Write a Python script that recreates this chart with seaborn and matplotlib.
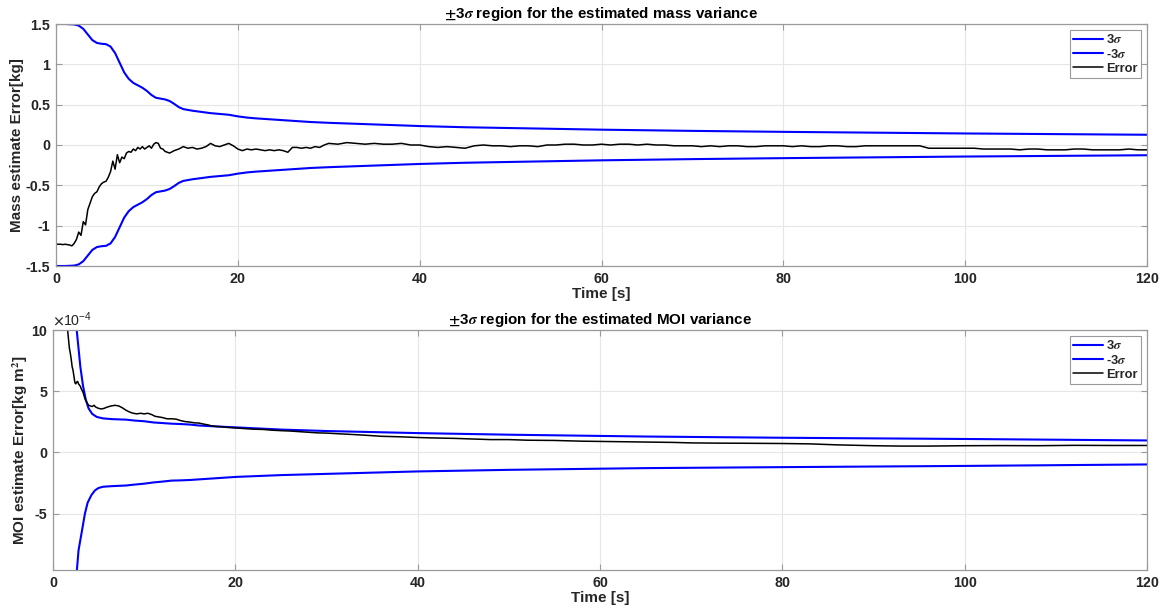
import numpy as np
import matplotlib
matplotlib.use("Agg")
import matplotlib.pyplot as plt
from matplotlib.ticker import ScalarFormatter, FixedLocator
import seaborn as sns

# ---------------- mass estimate: ±3σ bound and error ----------------
mass_sigma_t = [0, 1, 2, 2.5, 3, 3.5, 4, 4.5, 5, 5.5, 6, 6.5, 7, 7.5, 8, 8.5, 9, 9.5,
                10, 10.5, 11, 11.5, 12, 12.5, 13, 13.5, 14, 14.5, 15, 16, 17, 18, 19,
                20, 21, 22, 24, 26, 28, 30, 35, 40, 45, 50, 60, 70, 80, 90, 100, 110, 120]
mass_sigma = [1.5, 1.5, 1.495, 1.48, 1.44, 1.37, 1.30, 1.265, 1.255, 1.25, 1.22, 1.14,
              1.02, 0.90, 0.82, 0.77, 0.74, 0.71, 0.67, 0.62, 0.585, 0.575, 0.565, 0.545,
              0.51, 0.47, 0.445, 0.435, 0.425, 0.41, 0.395, 0.385, 0.375, 0.355, 0.34,
              0.33, 0.315, 0.30, 0.285, 0.275, 0.255, 0.235, 0.22, 0.21, 0.19, 0.175,
              0.163, 0.153, 0.143, 0.135, 0.127]

mass_err_t = np.concatenate([np.arange(0, 12.01, 0.25),
                             np.arange(12.5, 30.01, 0.5),
                             np.arange(31, 120.01, 1.0)])
mass_err = [
    # 0 .. 12 s
    -1.23, -1.23, -1.23, -1.235, -1.23, -1.235, -1.24, -1.25, -1.22, -1.17, -1.08,
    -1.12, -0.95, -0.99, -0.80, -0.72, -0.64, -0.60, -0.58, -0.52, -0.48, -0.46,
    -0.45, -0.40, -0.33, -0.20, -0.30, -0.12, -0.22, -0.15, -0.17, -0.10, -0.08,
    -0.09, -0.05, -0.07, -0.03, -0.05, -0.02, -0.05, -0.03, -0.01, -0.04, 0.01,
    0.03, 0.02, -0.04, -0.05, -0.08,
    # 12.5 .. 30 s
    -0.10, -0.07, -0.05, -0.02, -0.04, -0.03, -0.05, -0.04, -0.02, 0.02, -0.01,
    -0.02, 0.0, 0.02, -0.01, -0.05, -0.07, -0.05, -0.06, -0.05, -0.06, -0.07,
    -0.06, -0.07, -0.06, -0.07, -0.09, -0.03, -0.03, -0.04, -0.03, -0.04, -0.02,
    -0.03, 0.0, 0.02,
    # 31 .. 120 s
    0.01, 0.03, 0.02, 0.01, 0.02, 0.01, 0.01, 0.02, 0.0, 0.0, -0.02, -0.03, -0.02,
    -0.03, -0.04, -0.01, 0.0, -0.01, -0.01, -0.02, -0.01, -0.01, -0.02, 0.0, 0.0,
    0.01, 0.01, 0.0, 0.0, 0.01, 0.0, 0.01, 0.01, 0.0, 0.01, 0.0, 0.0, -0.01, -0.01,
    -0.01, -0.02, -0.01, -0.02, -0.01, -0.01, -0.02, -0.02, -0.01, -0.01, -0.01,
    -0.02, -0.01, -0.02, -0.02, -0.01, -0.01, -0.02, -0.02, -0.01, -0.01, -0.01,
    -0.01, -0.01, -0.01, -0.01, -0.04, -0.04, -0.04, -0.04, -0.04, -0.04, -0.05,
    -0.05, -0.05, -0.05, -0.06, -0.05, -0.05, -0.06, -0.06, -0.06, -0.05, -0.05,
    -0.06, -0.06, -0.06, -0.06, -0.05, -0.06, -0.06,
]

# ---------------- MOI estimate (values in units of 1e-4 kg m^2) ----------------
MOI_UNIT = 1e-4
moi_up_t = [1.5, 2.0, 2.3, 2.6, 3.0, 3.3, 3.6, 3.9, 4.3, 4.8, 5.5, 6.5, 8, 9, 10, 11,
            12, 13, 14, 15, 16, 18, 20, 25, 30, 40, 50, 65, 80, 100, 120]
moi_up = [25, 16, 12.5, 10, 7.0, 5.4, 4.3, 3.6, 3.15, 2.9, 2.78, 2.72, 2.68, 2.6,
          2.55, 2.45, 2.4, 2.35, 2.32, 2.28, 2.2, 2.12, 2.05, 1.87, 1.75, 1.58, 1.45,
          1.3, 1.2, 1.1, 0.98]

moi_lo_t = [2.3, 2.6, 2.8, 3.2, 3.5, 3.8, 4.2, 4.6, 5.0, 5.5, 6.5, 8, 9, 10, 11, 12,
            13, 14, 15, 16, 18, 20, 25, 30, 40, 50, 65, 80, 100, 120]
moi_lo = [-13, -9.8, -8.0, -6.3, -5.0, -4.1, -3.5, -3.1, -2.9, -2.8, -2.75, -2.7,
          -2.62, -2.55, -2.45, -2.38, -2.3, -2.28, -2.25, -2.2, -2.1, -2.0, -1.85,
          -1.75, -1.55, -1.42, -1.28, -1.2, -1.1, -0.98]

moi_err_t = [1.0, 1.3, 1.6, 1.8, 1.9, 2.0, 2.1, 2.2, 2.3, 2.4, 2.5, 2.6, 2.7, 2.8,
             2.9, 3.0, 3.1, 3.3, 3.5, 3.7, 3.9, 4.1, 4.3, 4.5, 4.7, 5.0, 5.3, 5.6,
             6.0, 6.4, 6.8, 7.2, 7.6, 8.0, 8.4, 8.8, 9.2, 9.6, 10.0, 10.4, 10.8,
             11.2, 11.6, 12.0, 12.5, 13, 13.5, 14, 14.5, 15, 15.5, 16, 16.5, 17,
             17.5, 18, 18.5, 19, 19.5, 20, 21, 22, 23, 24, 25, 26, 27, 28, 29, 30,
             32, 34, 36, 38, 40, 42, 44, 46, 48, 50, 52, 55, 58, 60, 62, 65, 68, 70,
             73, 76, 80, 83, 86, 90, 93, 96, 100, 104, 108, 112, 116, 120]
moi_err = [14, 12, 10, 8.5, 8.1, 7.6, 7.0, 6.7, 6.2, 5.7, 5.6, 5.75, 5.8, 5.6, 5.5,
           5.4, 5.2, 4.9, 4.4, 4.1, 3.85, 3.8, 3.75, 3.85, 3.7, 3.6, 3.55, 3.6, 3.72,
           3.8, 3.85, 3.8, 3.65, 3.45, 3.3, 3.2, 3.15, 3.2, 3.15, 3.2, 3.1, 2.95,
           2.9, 2.85, 2.75, 2.75, 2.72, 2.6, 2.52, 2.48, 2.42, 2.4, 2.32, 2.25, 2.15,
           2.12, 2.1, 2.05, 2.03, 2.0, 1.95, 1.9, 1.88, 1.82, 1.78, 1.75, 1.7, 1.65,
           1.6, 1.58, 1.5, 1.42, 1.32, 1.28, 1.22, 1.18, 1.15, 1.1, 1.05, 1.05, 1.0,
           0.98, 0.92, 0.9, 0.88, 0.85, 0.82, 0.78, 0.76, 0.75, 0.73, 0.7, 0.62,
           0.55, 0.52, 0.52, 0.55, 0.56, 0.55, 0.58, 0.57, 0.57]

x_ticks = [0, 20, 40, 60, 80, 100, 120]
mass_yticks = [-1.5, -1, -0.5, 0, 0.5, 1, 1.5]
moi_yticks = [-5, 0, 5, 10]


class FixedOrderFormatter(ScalarFormatter):
    """Scalar formatter with a fixed power-of-ten exponent."""

    def __init__(self, order, **kw):
        self._fixed_order = order
        super().__init__(**kw)

    def _set_order_of_magnitude(self):
        self.orderOfMagnitude = self._fixed_order

    def _set_format(self):
        self.format = "%g"


# ---------------- styling ----------------
sns.set_theme(style="whitegrid")
plt.rcParams["font.family"] = ["Liberation Sans", "DejaVu Sans"]
plt.rcParams["font.weight"] = "bold"
plt.rcParams["axes.unicode_minus"] = False
plt.rcParams["mathtext.fontset"] = "stix"

AX_GRAY = "#9a9a9a"
GRID_GRAY = "#e6e6e6"
TXT = "#262626"
TICK_FS = 10.3
LABEL_FS = 11
TITLE_FS = 10.9
LEG_FS = 9.3

fig = plt.figure(figsize=(11.66, 6.13), dpi=100)
W, H = 1166, 613
ax1 = fig.add_axes([56 / W, 1 - 266 / H, (1147 - 56) / W, (266 - 24) / H])
ax2 = fig.add_axes([53 / W, 1 - 570 / H, (1147 - 53) / W, (570 - 330) / H])


def style_axes(ax):
    ax.set_facecolor("white")
    ax.grid(True, color=GRID_GRAY, linewidth=0.8)
    for sp in ax.spines.values():
        sp.set_visible(True)
        sp.set_color(AX_GRAY)
        sp.set_linewidth(0.9)
    ax.tick_params(direction="in", length=4, width=0.8, color=AX_GRAY,
                   labelsize=TICK_FS, labelcolor=TXT, top=True, right=True,
                   left=True, bottom=True, pad=4)
    for lab in ax.get_xticklabels() + ax.get_yticklabels():
        lab.set_fontweight("bold")


LW_SIG = 1.5
LW_ERR = 1.1

# ---- upper panel: mass ----
sns.lineplot(x=mass_sigma_t, y=mass_sigma, ax=ax1, color="blue", lw=LW_SIG,
             label=r"3$\sigma$", sort=False, estimator=None)
sns.lineplot(x=mass_sigma_t, y=[-v for v in mass_sigma], ax=ax1, color="blue",
             lw=LW_SIG, label=r"-3$\sigma$", sort=False, estimator=None)
sns.lineplot(x=mass_err_t, y=mass_err, ax=ax1, color="black", lw=LW_ERR,
             label="Error", sort=False, estimator=None)
ax1.set_xlim(0, 120)
ax1.set_ylim(-1.5, 1.5)
ax1.set_xticks(x_ticks)
ax1.set_yticks(mass_yticks)
ax1.set_yticklabels([f"{v:g}" for v in mass_yticks])
style_axes(ax1)
ax1.set_title(r"$\pm$3$\sigma$ region for the estimated mass variance",
              fontsize=TITLE_FS, fontweight="bold", color="black", pad=4)
ax1.set_xlabel("Time [s]", fontsize=LABEL_FS, fontweight="bold", color=TXT, labelpad=1)
ax1.set_ylabel("Mass estimate Error[kg]", fontsize=LABEL_FS, fontweight="bold",
               color=TXT, labelpad=1)

# ---- lower panel: MOI ----
sns.lineplot(x=moi_up_t, y=[v * MOI_UNIT for v in moi_up], ax=ax2, color="blue",
             lw=LW_SIG, label=r"3$\sigma$", sort=False, estimator=None)
sns.lineplot(x=moi_lo_t, y=[v * MOI_UNIT for v in moi_lo], ax=ax2, color="blue",
             lw=LW_SIG, label=r"-3$\sigma$", sort=False, estimator=None)
sns.lineplot(x=moi_err_t, y=[v * MOI_UNIT for v in moi_err], ax=ax2, color="black",
             lw=LW_ERR, label="Error", sort=False, estimator=None)
ax2.set_xlim(0, 120)
ax2.set_ylim(-9.6e-4, 10e-4)
ax2.set_xticks(x_ticks)
ax2.yaxis.set_major_locator(FixedLocator([v * MOI_UNIT for v in moi_yticks]))
ax2.yaxis.set_major_formatter(FixedOrderFormatter(-4, useMathText=True))
style_axes(ax2)
off = ax2.yaxis.get_offset_text()
off.set_fontsize(TICK_FS)
off.set_fontweight("normal")
off.set_color(TXT)
ax2.set_title(r"$\pm$3$\sigma$ region for the estimated MOI variance",
              fontsize=TITLE_FS, fontweight="bold", color="black", pad=4)
ax2.set_xlabel("Time [s]", fontsize=LABEL_FS, fontweight="bold", color=TXT, labelpad=1)
ax2.set_ylabel(r"MOI estimate Error[kg m$^2$]", fontsize=LABEL_FS, fontweight="bold",
               color=TXT, labelpad=1)

for ax in (ax1, ax2):
    leg = ax.legend(loc="upper right", fontsize=LEG_FS, frameon=True, fancybox=False,
                    framealpha=1, edgecolor=AX_GRAY, handlelength=2.3,
                    handletextpad=0.3, borderpad=0.25, labelspacing=0.15,
                    borderaxespad=0.45)
    leg.get_frame().set_linewidth(0.8)
    for t in leg.get_texts():
        t.set_fontweight("bold")
        t.set_color(TXT)

fig.savefig("out.png", dpi=100)
